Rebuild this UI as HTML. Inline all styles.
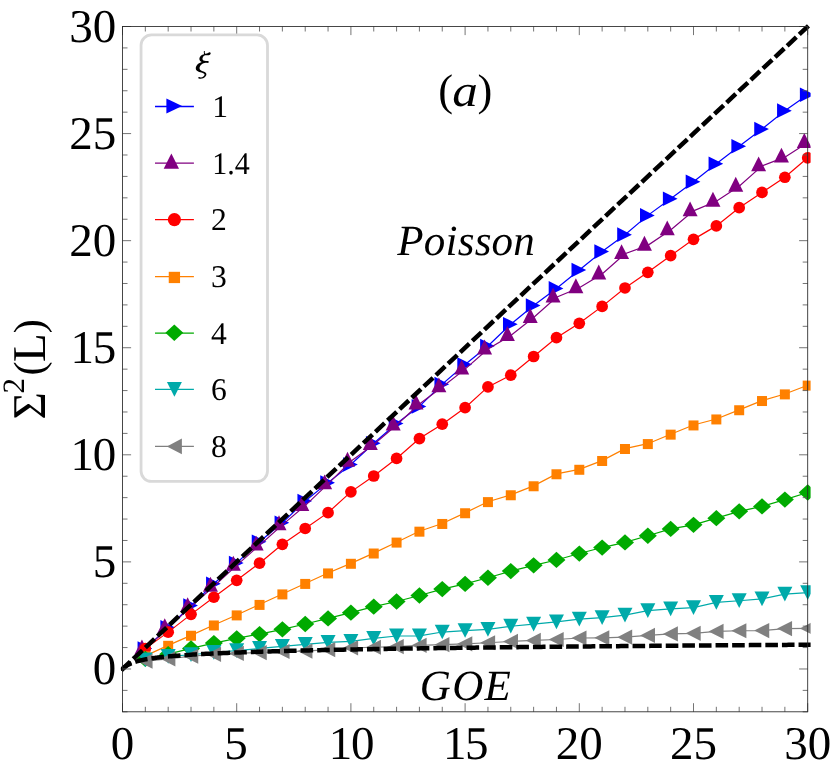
<!DOCTYPE html>
<html><head><meta charset="utf-8"><title>Number variance</title>
<style>html,body{margin:0;padding:0;background:#fff;}svg{display:block;will-change:transform;}text{font-family:"Liberation Serif",serif;fill:#000;text-rendering:geometricPrecision;}</style></head><body>
<svg width="830" height="770" viewBox="0 0 830 770">
<rect width="830" height="770" fill="#fff"/>
<defs>
<path id="m-blue" d="M-7.8 -7.3L6.9 0L-7.8 7.3Z"/>
<path id="l-blue" d="M-8.0 -8.0L7.7 -0.45L-8.0 7.1Z"/>
<path id="m-purple" d="M-3.4 -9.5L4.1 5.4L-10.9 5.4Z"/>
<path id="l-purple" d="M-3.05 -9.6L4.6 5.7L-10.7 5.7Z"/>
<circle id="m-red" r="5.85"/>
<circle id="l-red" r="6.6"/>
<rect id="m-orange" x="-5.0" y="-4.6" width="10.0" height="10.0"/>
<rect id="l-orange" x="-5.65" y="-4.8" width="11.3" height="11.3"/>
<path id="m-green" d="M0 -8.15L9.0 0L0 8.15L-9.0 0Z"/>
<path id="l-green" d="M-0.1 -8.5L8.85 -0.3L-0.1 7.9L-9.05 -0.3Z"/>
<path id="m-cyan" d="M-7.5 -7.4L7.5 -7.4L0 7.3Z"/>
<path id="l-cyan" d="M-7.5 -7.5L7.5 -7.5L0 7.4Z"/>
<path id="m-gray" d="M7.2 -7.6L7.2 7.6L-7.8 0Z"/>
<path id="l-gray" d="M7.5 -7.8L7.5 7.8L-7.5 0Z"/>
<clipPath id="clip"><rect x="120.9" y="23.5" width="689.7" height="691.3"/></clipPath>
</defs>
<g clip-path="url(#clip)">
<g fill="#0000ff" stroke="none">
<polyline fill="none" stroke="#0000ff" stroke-width="1.2" points="145.34,648.62 168.18,627.42 191.02,605.58 213.86,583.73 236.7,562.96 259.54,541.76 282.38,522.7 305.22,501.07 328.06,482.65 350.9,464.45 373.74,443.25 396.58,423.55 419.42,406.41 442.26,384.14 465.1,364.44 487.94,346.02 510.78,324.18 533.62,305.55 556.46,288.41 579.3,270 602.14,251.58 624.98,234.66 647.82,215.39 670.66,198.68 693.5,181.76 716.34,163.77 739.18,146.21 762.02,129.08 784.86,110.66 807.7,94.82"/>
<use href="#m-blue" x="145.34" y="648.62"/>
<use href="#m-blue" x="168.18" y="627.42"/>
<use href="#m-blue" x="191.02" y="605.58"/>
<use href="#m-blue" x="213.86" y="583.73"/>
<use href="#m-blue" x="236.7" y="562.96"/>
<use href="#m-blue" x="259.54" y="541.76"/>
<use href="#m-blue" x="282.38" y="522.7"/>
<use href="#m-blue" x="305.22" y="501.07"/>
<use href="#m-blue" x="328.06" y="482.65"/>
<use href="#m-blue" x="350.9" y="464.45"/>
<use href="#m-blue" x="373.74" y="443.25"/>
<use href="#m-blue" x="396.58" y="423.55"/>
<use href="#m-blue" x="419.42" y="406.41"/>
<use href="#m-blue" x="442.26" y="384.14"/>
<use href="#m-blue" x="465.1" y="364.44"/>
<use href="#m-blue" x="487.94" y="346.02"/>
<use href="#m-blue" x="510.78" y="324.18"/>
<use href="#m-blue" x="533.62" y="305.55"/>
<use href="#m-blue" x="556.46" y="288.41"/>
<use href="#m-blue" x="579.3" y="270"/>
<use href="#m-blue" x="602.14" y="251.58"/>
<use href="#m-blue" x="624.98" y="234.66"/>
<use href="#m-blue" x="647.82" y="215.39"/>
<use href="#m-blue" x="670.66" y="198.68"/>
<use href="#m-blue" x="693.5" y="181.76"/>
<use href="#m-blue" x="716.34" y="163.77"/>
<use href="#m-blue" x="739.18" y="146.21"/>
<use href="#m-blue" x="762.02" y="129.08"/>
<use href="#m-blue" x="784.86" y="110.66"/>
<use href="#m-blue" x="807.7" y="94.82"/>
</g>
<g fill="#800080" stroke="none">
<polyline fill="none" stroke="#800080" stroke-width="1.2" points="145.34,649.05 168.18,627.85 191.02,606.65 213.86,586.3 236.7,565.32 259.54,545.19 282.38,524.84 305.22,505.57 328.06,483.94 350.9,461.24 373.74,444.53 396.58,425.04 419.42,404.06 442.26,386.92 465.1,369.15 487.94,349.02 510.78,335.53 533.62,317.54 556.46,297.19 579.3,287.77 602.14,274.06 624.98,253.72 647.82,245.37 670.66,229.95 693.5,210.89 716.34,201.25 739.18,186.26 762.02,165.92 784.86,157.14 807.7,142.57"/>
<use href="#m-purple" x="145.34" y="649.05"/>
<use href="#m-purple" x="168.18" y="627.85"/>
<use href="#m-purple" x="191.02" y="606.65"/>
<use href="#m-purple" x="213.86" y="586.3"/>
<use href="#m-purple" x="236.7" y="565.32"/>
<use href="#m-purple" x="259.54" y="545.19"/>
<use href="#m-purple" x="282.38" y="524.84"/>
<use href="#m-purple" x="305.22" y="505.57"/>
<use href="#m-purple" x="328.06" y="483.94"/>
<use href="#m-purple" x="350.9" y="461.24"/>
<use href="#m-purple" x="373.74" y="444.53"/>
<use href="#m-purple" x="396.58" y="425.04"/>
<use href="#m-purple" x="419.42" y="404.06"/>
<use href="#m-purple" x="442.26" y="386.92"/>
<use href="#m-purple" x="465.1" y="369.15"/>
<use href="#m-purple" x="487.94" y="349.02"/>
<use href="#m-purple" x="510.78" y="335.53"/>
<use href="#m-purple" x="533.62" y="317.54"/>
<use href="#m-purple" x="556.46" y="297.19"/>
<use href="#m-purple" x="579.3" y="287.77"/>
<use href="#m-purple" x="602.14" y="274.06"/>
<use href="#m-purple" x="624.98" y="253.72"/>
<use href="#m-purple" x="647.82" y="245.37"/>
<use href="#m-purple" x="670.66" y="229.95"/>
<use href="#m-purple" x="693.5" y="210.89"/>
<use href="#m-purple" x="716.34" y="201.25"/>
<use href="#m-purple" x="739.18" y="186.26"/>
<use href="#m-purple" x="762.02" y="165.92"/>
<use href="#m-purple" x="784.86" y="157.14"/>
<use href="#m-purple" x="807.7" y="142.57"/>
</g>
<g fill="#ff0000" stroke="none">
<polyline fill="none" stroke="#ff0000" stroke-width="1.2" points="145.34,648.62 168.18,632.13 191.02,614.36 213.86,597.23 236.7,580.31 259.54,563.18 282.38,544.33 305.22,528.48 328.06,512.63 350.9,491.86 373.74,476.01 396.58,458.45 419.42,438.54 442.26,424.19 465.1,407.7 487.94,386.92 510.78,375.15 533.62,356.51 556.46,337.67 579.3,323.32 602.14,306.4 624.98,287.98 647.82,272.35 670.66,255.65 693.5,239.37 716.34,225.88 739.18,207.68 762.02,192.47 784.86,177.27 807.7,157.78"/>
<use href="#m-red" x="145.34" y="648.62"/>
<use href="#m-red" x="168.18" y="632.13"/>
<use href="#m-red" x="191.02" y="614.36"/>
<use href="#m-red" x="213.86" y="597.23"/>
<use href="#m-red" x="236.7" y="580.31"/>
<use href="#m-red" x="259.54" y="563.18"/>
<use href="#m-red" x="282.38" y="544.33"/>
<use href="#m-red" x="305.22" y="528.48"/>
<use href="#m-red" x="328.06" y="512.63"/>
<use href="#m-red" x="350.9" y="491.86"/>
<use href="#m-red" x="373.74" y="476.01"/>
<use href="#m-red" x="396.58" y="458.45"/>
<use href="#m-red" x="419.42" y="438.54"/>
<use href="#m-red" x="442.26" y="424.19"/>
<use href="#m-red" x="465.1" y="407.7"/>
<use href="#m-red" x="487.94" y="386.92"/>
<use href="#m-red" x="510.78" y="375.15"/>
<use href="#m-red" x="533.62" y="356.51"/>
<use href="#m-red" x="556.46" y="337.67"/>
<use href="#m-red" x="579.3" y="323.32"/>
<use href="#m-red" x="602.14" y="306.4"/>
<use href="#m-red" x="624.98" y="287.98"/>
<use href="#m-red" x="647.82" y="272.35"/>
<use href="#m-red" x="670.66" y="255.65"/>
<use href="#m-red" x="693.5" y="239.37"/>
<use href="#m-red" x="716.34" y="225.88"/>
<use href="#m-red" x="739.18" y="207.68"/>
<use href="#m-red" x="762.02" y="192.47"/>
<use href="#m-red" x="784.86" y="177.27"/>
<use href="#m-red" x="807.7" y="157.78"/>
</g>
<g fill="#ff8000" stroke="none">
<polyline fill="none" stroke="#ff8000" stroke-width="1.2" points="145.34,655.91 168.18,645.41 191.02,635.35 213.86,625.07 236.7,615 259.54,604.51 282.38,594.01 305.22,583.52 328.06,573.03 350.9,563.39 373.74,553.11 396.58,542.19 419.42,531.27 442.26,523.56 465.1,512.85 487.94,501.71 510.78,494.86 533.62,485.87 556.46,473.87 579.3,469.38 602.14,460.59 624.98,448.6 647.82,443.68 670.66,434.25 693.5,425.04 716.34,419.05 739.18,409.84 762.02,400.63 784.86,393.99 807.7,385.21"/>
<use href="#m-orange" x="145.34" y="655.91"/>
<use href="#m-orange" x="168.18" y="645.41"/>
<use href="#m-orange" x="191.02" y="635.35"/>
<use href="#m-orange" x="213.86" y="625.07"/>
<use href="#m-orange" x="236.7" y="615"/>
<use href="#m-orange" x="259.54" y="604.51"/>
<use href="#m-orange" x="282.38" y="594.01"/>
<use href="#m-orange" x="305.22" y="583.52"/>
<use href="#m-orange" x="328.06" y="573.03"/>
<use href="#m-orange" x="350.9" y="563.39"/>
<use href="#m-orange" x="373.74" y="553.11"/>
<use href="#m-orange" x="396.58" y="542.19"/>
<use href="#m-orange" x="419.42" y="531.27"/>
<use href="#m-orange" x="442.26" y="523.56"/>
<use href="#m-orange" x="465.1" y="512.85"/>
<use href="#m-orange" x="487.94" y="501.71"/>
<use href="#m-orange" x="510.78" y="494.86"/>
<use href="#m-orange" x="533.62" y="485.87"/>
<use href="#m-orange" x="556.46" y="473.87"/>
<use href="#m-orange" x="579.3" y="469.38"/>
<use href="#m-orange" x="602.14" y="460.59"/>
<use href="#m-orange" x="624.98" y="448.6"/>
<use href="#m-orange" x="647.82" y="443.68"/>
<use href="#m-orange" x="670.66" y="434.25"/>
<use href="#m-orange" x="693.5" y="425.04"/>
<use href="#m-orange" x="716.34" y="419.05"/>
<use href="#m-orange" x="739.18" y="409.84"/>
<use href="#m-orange" x="762.02" y="400.63"/>
<use href="#m-orange" x="784.86" y="393.99"/>
<use href="#m-orange" x="807.7" y="385.21"/>
</g>
<g fill="#00aa00" stroke="none">
<polyline fill="none" stroke="#00aa00" stroke-width="1.2" points="145.34,658.9 168.18,654.19 191.02,648.41 213.86,643.06 236.7,638.34 259.54,634.06 282.38,629.35 305.22,624 328.06,618.43 350.9,612.65 373.74,606.65 396.58,601.51 419.42,595.51 442.26,589.09 465.1,583.95 487.94,577.74 510.78,571.1 533.62,565.32 556.46,559.96 579.3,553.54 602.14,547.54 624.98,542.4 647.82,535.76 670.66,528.91 693.5,524.84 716.34,518.2 739.18,511.35 762.02,506.42 784.86,499.57 807.7,492.5"/>
<use href="#m-green" x="145.34" y="658.9"/>
<use href="#m-green" x="168.18" y="654.19"/>
<use href="#m-green" x="191.02" y="648.41"/>
<use href="#m-green" x="213.86" y="643.06"/>
<use href="#m-green" x="236.7" y="638.34"/>
<use href="#m-green" x="259.54" y="634.06"/>
<use href="#m-green" x="282.38" y="629.35"/>
<use href="#m-green" x="305.22" y="624"/>
<use href="#m-green" x="328.06" y="618.43"/>
<use href="#m-green" x="350.9" y="612.65"/>
<use href="#m-green" x="373.74" y="606.65"/>
<use href="#m-green" x="396.58" y="601.51"/>
<use href="#m-green" x="419.42" y="595.51"/>
<use href="#m-green" x="442.26" y="589.09"/>
<use href="#m-green" x="465.1" y="583.95"/>
<use href="#m-green" x="487.94" y="577.74"/>
<use href="#m-green" x="510.78" y="571.1"/>
<use href="#m-green" x="533.62" y="565.32"/>
<use href="#m-green" x="556.46" y="559.96"/>
<use href="#m-green" x="579.3" y="553.54"/>
<use href="#m-green" x="602.14" y="547.54"/>
<use href="#m-green" x="624.98" y="542.4"/>
<use href="#m-green" x="647.82" y="535.76"/>
<use href="#m-green" x="670.66" y="528.91"/>
<use href="#m-green" x="693.5" y="524.84"/>
<use href="#m-green" x="716.34" y="518.2"/>
<use href="#m-green" x="739.18" y="511.35"/>
<use href="#m-green" x="762.02" y="506.42"/>
<use href="#m-green" x="784.86" y="499.57"/>
<use href="#m-green" x="807.7" y="492.5"/>
</g>
<g fill="#00aaaa" stroke="none">
<polyline fill="none" stroke="#00aaaa" stroke-width="1.2" points="145.34,659.97 168.18,656.44 191.02,654.73 213.86,652.48 236.7,650.66 259.54,648.45 282.38,646.31 305.22,644.45 328.06,642.31 350.9,641.45 373.74,638.34 396.58,635.99 419.42,635.88 442.26,632.03 465.1,630.53 487.94,629.46 510.78,626.24 533.62,624.1 556.46,621.96 579.3,619.18 602.14,617.68 624.98,615.11 647.82,610.61 670.66,608.9 693.5,607.61 716.34,602.47 739.18,600.76 762.02,598.83 784.86,594.12 807.7,592.62"/>
<use href="#m-cyan" x="145.34" y="659.97"/>
<use href="#m-cyan" x="168.18" y="656.44"/>
<use href="#m-cyan" x="191.02" y="654.73"/>
<use href="#m-cyan" x="213.86" y="652.48"/>
<use href="#m-cyan" x="236.7" y="650.66"/>
<use href="#m-cyan" x="259.54" y="648.45"/>
<use href="#m-cyan" x="282.38" y="646.31"/>
<use href="#m-cyan" x="305.22" y="644.45"/>
<use href="#m-cyan" x="328.06" y="642.31"/>
<use href="#m-cyan" x="350.9" y="641.45"/>
<use href="#m-cyan" x="373.74" y="638.34"/>
<use href="#m-cyan" x="396.58" y="635.99"/>
<use href="#m-cyan" x="419.42" y="635.88"/>
<use href="#m-cyan" x="442.26" y="632.03"/>
<use href="#m-cyan" x="465.1" y="630.53"/>
<use href="#m-cyan" x="487.94" y="629.46"/>
<use href="#m-cyan" x="510.78" y="626.24"/>
<use href="#m-cyan" x="533.62" y="624.1"/>
<use href="#m-cyan" x="556.46" y="621.96"/>
<use href="#m-cyan" x="579.3" y="619.18"/>
<use href="#m-cyan" x="602.14" y="617.68"/>
<use href="#m-cyan" x="624.98" y="615.11"/>
<use href="#m-cyan" x="647.82" y="610.61"/>
<use href="#m-cyan" x="670.66" y="608.9"/>
<use href="#m-cyan" x="693.5" y="607.61"/>
<use href="#m-cyan" x="716.34" y="602.47"/>
<use href="#m-cyan" x="739.18" y="600.76"/>
<use href="#m-cyan" x="762.02" y="598.83"/>
<use href="#m-cyan" x="784.86" y="594.12"/>
<use href="#m-cyan" x="807.7" y="592.62"/>
</g>
<g fill="#808080" stroke="none">
<polyline fill="none" stroke="#808080" stroke-width="1.2" points="145.34,661.26 168.18,658.8 191.02,656.23 213.86,654.3 236.7,653.44 259.54,652.59 282.38,651.52 305.22,651.09 328.06,649.59 350.9,647.87 373.74,647.23 396.58,646.59 419.42,645.3 442.26,644.66 465.1,643.81 487.94,642.73 510.78,641.45 533.62,640.38 556.46,639.52 579.3,638.02 602.14,637.81 624.98,637.17 647.82,635.45 670.66,633.95 693.5,633.31 716.34,631.38 739.18,630.74 762.02,630.53 784.86,628.6 807.7,628.39"/>
<use href="#m-gray" x="145.34" y="661.26"/>
<use href="#m-gray" x="168.18" y="658.8"/>
<use href="#m-gray" x="191.02" y="656.23"/>
<use href="#m-gray" x="213.86" y="654.3"/>
<use href="#m-gray" x="236.7" y="653.44"/>
<use href="#m-gray" x="259.54" y="652.59"/>
<use href="#m-gray" x="282.38" y="651.52"/>
<use href="#m-gray" x="305.22" y="651.09"/>
<use href="#m-gray" x="328.06" y="649.59"/>
<use href="#m-gray" x="350.9" y="647.87"/>
<use href="#m-gray" x="373.74" y="647.23"/>
<use href="#m-gray" x="396.58" y="646.59"/>
<use href="#m-gray" x="419.42" y="645.3"/>
<use href="#m-gray" x="442.26" y="644.66"/>
<use href="#m-gray" x="465.1" y="643.81"/>
<use href="#m-gray" x="487.94" y="642.73"/>
<use href="#m-gray" x="510.78" y="641.45"/>
<use href="#m-gray" x="533.62" y="640.38"/>
<use href="#m-gray" x="556.46" y="639.52"/>
<use href="#m-gray" x="579.3" y="638.02"/>
<use href="#m-gray" x="602.14" y="637.81"/>
<use href="#m-gray" x="624.98" y="637.17"/>
<use href="#m-gray" x="647.82" y="635.45"/>
<use href="#m-gray" x="670.66" y="633.95"/>
<use href="#m-gray" x="693.5" y="633.31"/>
<use href="#m-gray" x="716.34" y="631.38"/>
<use href="#m-gray" x="739.18" y="630.74"/>
<use href="#m-gray" x="762.02" y="630.53"/>
<use href="#m-gray" x="784.86" y="628.6"/>
<use href="#m-gray" x="807.7" y="628.39"/>
</g>
<line x1="121.13" y1="670.25" x2="812.27" y2="22.22" stroke="#000" stroke-width="4.5" fill="none" stroke-dasharray="12.6 4.0" stroke-dashoffset="0"/>
<polyline points="121.13,670.25 122.5,668.97 123.07,668.45 123.64,667.95 124.21,667.48 124.78,667.03 125.36,666.6 125.93,666.2 126.5,665.81 127.07,665.45 127.64,665.1 128.21,664.77 128.78,664.46 129.35,664.16 129.92,663.88 130.49,663.61 131.06,663.35 131.64,663.11 132.21,662.87 132.78,662.65 133.35,662.44 133.92,662.24 134.49,662.04 135.06,661.86 135.63,661.68 136.2,661.5 136.78,661.34 137.35,661.18 137.92,661.03 138.49,660.88 139.06,660.73 139.63,660.6 140.2,660.46 140.77,660.33 141.34,660.21 141.91,660.08 142.49,659.96 143.06,659.85 143.63,659.73 144.2,659.62 144.77,659.52 145.34,659.41 145.91,659.31 146.48,659.21 147.05,659.11 147.62,659.01 148.19,658.92 148.77,658.83 149.34,658.73 149.91,658.65 150.48,658.56 151.05,658.47 151.62,658.39 152.19,658.31 152.76,658.23 153.33,658.15 153.91,658.07 154.48,657.99 155.05,657.92 155.62,657.84 156.19,657.77 156.76,657.7 157.33,657.63 157.9,657.56 158.47,657.49 159.04,657.42 159.62,657.36 160.19,657.29 160.76,657.23 161.33,657.16 161.9,657.1 162.47,657.04 163.04,656.98 163.61,656.92 164.18,656.86 164.75,656.8 165.32,656.74 165.9,656.69 166.47,656.63 167.04,656.58 167.61,656.52 168.18,656.47 169.32,656.36 171.47,656.17 173.62,655.98 175.77,655.81 177.92,655.64 180.07,655.47 182.22,655.32 184.37,655.16 186.52,655.02 188.67,654.87 190.83,654.73 192.98,654.6 195.13,654.47 197.28,654.35 199.43,654.22 201.58,654.1 203.73,653.99 205.88,653.87 208.03,653.76 210.18,653.66 212.33,653.55 214.48,653.45 216.63,653.35 218.78,653.25 220.93,653.16 223.08,653.06 225.23,652.97 227.38,652.88 229.53,652.79 231.68,652.71 233.83,652.62 235.98,652.54 238.13,652.46 240.28,652.38 242.43,652.3 244.58,652.22 246.73,652.15 248.88,652.07 251.03,652 253.18,651.93 255.33,651.86 257.49,651.79 259.64,651.72 261.79,651.65 263.94,651.59 266.09,651.52 268.24,651.46 270.39,651.39 272.54,651.33 274.69,651.27 276.84,651.21 278.99,651.15 281.14,651.09 283.29,651.03 285.44,650.97 287.59,650.92 289.74,650.86 291.89,650.8 294.04,650.75 296.19,650.7 298.34,650.64 300.49,650.59 302.64,650.54 304.79,650.49 306.94,650.44 309.09,650.39 311.24,650.34 313.39,650.29 315.54,650.24 317.69,650.19 319.84,650.14 321.99,650.1 324.15,650.05 326.3,650 328.45,649.96 330.6,649.91 332.75,649.87 334.9,649.82 337.05,649.78 339.2,649.74 341.35,649.69 343.5,649.65 345.65,649.61 347.8,649.57 349.95,649.53 352.1,649.49 354.25,649.45 356.4,649.41 358.55,649.37 360.7,649.33 362.85,649.29 365,649.25 367.15,649.21 369.3,649.17 371.45,649.13 373.6,649.1 375.75,649.06 377.9,649.02 380.05,648.99 382.2,648.95 384.35,648.92 386.5,648.88 388.65,648.84 390.81,648.81 392.96,648.78 395.11,648.74 397.26,648.71 399.41,648.67 401.56,648.64 403.71,648.61 405.86,648.57 408.01,648.54 410.16,648.51 412.31,648.48 414.46,648.44 416.61,648.41 418.76,648.38 420.91,648.35 423.06,648.32 425.21,648.29 427.36,648.26 429.51,648.23 431.66,648.2 433.81,648.16 435.96,648.14 438.11,648.11 440.26,648.08 442.41,648.05 444.56,648.02 446.71,647.99 448.86,647.96 451.01,647.93 453.16,647.9 455.31,647.88 457.47,647.85 459.62,647.82 461.77,647.79 463.92,647.76 466.07,647.74 468.22,647.71 470.37,647.68 472.52,647.66 474.67,647.63 476.82,647.6 478.97,647.58 481.12,647.55 483.27,647.53 485.42,647.5 487.57,647.47 489.72,647.45 491.87,647.42 494.02,647.4 496.17,647.37 498.32,647.35 500.47,647.32 502.62,647.3 504.77,647.27 506.92,647.25 509.07,647.23 511.22,647.2 513.37,647.18 515.52,647.15 517.67,647.13 519.82,647.11 521.97,647.08 524.12,647.06 526.28,647.04 528.43,647.01 530.58,646.99 532.73,646.97 534.88,646.95 537.03,646.92 539.18,646.9 541.33,646.88 543.48,646.86 545.63,646.83 547.78,646.81 549.93,646.79 552.08,646.77 554.23,646.75 556.38,646.72 558.53,646.7 560.68,646.68 562.83,646.66 564.98,646.64 567.13,646.62 569.28,646.6 571.43,646.58 573.58,646.56 575.73,646.54 577.88,646.51 580.03,646.49 582.18,646.47 584.33,646.45 586.48,646.43 588.63,646.41 590.78,646.39 592.94,646.37 595.09,646.35 597.24,646.33 599.39,646.31 601.54,646.29 603.69,646.28 605.84,646.26 607.99,646.24 610.14,646.22 612.29,646.2 614.44,646.18 616.59,646.16 618.74,646.14 620.89,646.12 623.04,646.1 625.19,646.09 627.34,646.07 629.49,646.05 631.64,646.03 633.79,646.01 635.94,645.99 638.09,645.98 640.24,645.96 642.39,645.94 644.54,645.92 646.69,645.9 648.84,645.89 650.99,645.87 653.14,645.85 655.29,645.83 657.44,645.82 659.6,645.8 661.75,645.78 663.9,645.76 666.05,645.75 668.2,645.73 670.35,645.71 672.5,645.7 674.65,645.68 676.8,645.66 678.95,645.64 681.1,645.63 683.25,645.61 685.4,645.59 687.55,645.58 689.7,645.56 691.85,645.55 694,645.53 696.15,645.51 698.3,645.5 700.45,645.48 702.6,645.46 704.75,645.45 706.9,645.43 709.05,645.42 711.2,645.4 713.35,645.38 715.5,645.37 717.65,645.35 719.8,645.34 721.95,645.32 724.1,645.31 726.26,645.29 728.41,645.28 730.56,645.26 732.71,645.24 734.86,645.23 737.01,645.21 739.16,645.2 741.31,645.18 743.46,645.17 745.61,645.15 747.76,645.14 749.91,645.12 752.06,645.11 754.21,645.09 756.36,645.08 758.51,645.07 760.66,645.05 762.81,645.04 764.96,645.02 767.11,645.01 769.26,644.99 771.41,644.98 773.56,644.96 775.71,644.95 777.86,644.93 780.01,644.92 782.16,644.91 784.31,644.89 786.46,644.88 788.61,644.86 790.76,644.85 792.92,644.84 795.07,644.82 797.22,644.81 799.37,644.79 801.52,644.78 803.67,644.77 805.82,644.75 807.97,644.74 810.12,644.73 812.27,644.71" stroke="#000" stroke-width="4.5" fill="none" stroke-dasharray="12.6 4.0" stroke-dashoffset="0"/>
</g>
<path d="M122.5 711.8v-8.6M122.5 26.5v8.6M145.34 711.8v-5M145.34 26.5v5M168.18 711.8v-5M168.18 26.5v5M191.02 711.8v-5M191.02 26.5v5M213.86 711.8v-5M213.86 26.5v5M236.7 711.8v-8.6M236.7 26.5v8.6M259.54 711.8v-5M259.54 26.5v5M282.38 711.8v-5M282.38 26.5v5M305.22 711.8v-5M305.22 26.5v5M328.06 711.8v-5M328.06 26.5v5M350.9 711.8v-8.6M350.9 26.5v8.6M373.74 711.8v-5M373.74 26.5v5M396.58 711.8v-5M396.58 26.5v5M419.42 711.8v-5M419.42 26.5v5M442.26 711.8v-5M442.26 26.5v5M465.1 711.8v-8.6M465.1 26.5v8.6M487.94 711.8v-5M487.94 26.5v5M510.78 711.8v-5M510.78 26.5v5M533.62 711.8v-5M533.62 26.5v5M556.46 711.8v-5M556.46 26.5v5M579.3 711.8v-8.6M579.3 26.5v8.6M602.14 711.8v-5M602.14 26.5v5M624.98 711.8v-5M624.98 26.5v5M647.82 711.8v-5M647.82 26.5v5M670.66 711.8v-5M670.66 26.5v5M693.5 711.8v-8.6M693.5 26.5v8.6M716.34 711.8v-5M716.34 26.5v5M739.18 711.8v-5M739.18 26.5v5M762.02 711.8v-5M762.02 26.5v5M784.86 711.8v-5M784.86 26.5v5M807.7 711.8v-8.6M807.7 26.5v8.6M122.5 711.8h5M807.7 711.8h-5M122.5 690.38h5M807.7 690.38h-5M122.5 668.97h8.6M807.7 668.97h-8.6M122.5 647.55h5M807.7 647.55h-5M122.5 626.14h5M807.7 626.14h-5M122.5 604.72h5M807.7 604.72h-5M122.5 583.31h5M807.7 583.31h-5M122.5 561.89h8.6M807.7 561.89h-8.6M122.5 540.47h5M807.7 540.47h-5M122.5 519.06h5M807.7 519.06h-5M122.5 497.64h5M807.7 497.64h-5M122.5 476.23h5M807.7 476.23h-5M122.5 454.81h8.6M807.7 454.81h-8.6M122.5 433.4h5M807.7 433.4h-5M122.5 411.98h5M807.7 411.98h-5M122.5 390.57h5M807.7 390.57h-5M122.5 369.15h5M807.7 369.15h-5M122.5 347.73h8.6M807.7 347.73h-8.6M122.5 326.32h5M807.7 326.32h-5M122.5 304.9h5M807.7 304.9h-5M122.5 283.49h5M807.7 283.49h-5M122.5 262.07h5M807.7 262.07h-5M122.5 240.66h8.6M807.7 240.66h-8.6M122.5 219.24h5M807.7 219.24h-5M122.5 197.83h5M807.7 197.83h-5M122.5 176.41h5M807.7 176.41h-5M122.5 154.99h5M807.7 154.99h-5M122.5 133.58h8.6M807.7 133.58h-8.6M122.5 112.16h5M807.7 112.16h-5M122.5 90.75h5M807.7 90.75h-5M122.5 69.33h5M807.7 69.33h-5M122.5 47.92h5M807.7 47.92h-5M122.5 26.5h8.6M807.7 26.5h-8.6" stroke="#5c5c5c" stroke-width="0.85" fill="none"/>
<rect x="122.5" y="26.5" width="685.2" height="685.3" fill="none" stroke="#262626" stroke-width="0.85"/>
<g font-size="47">
<text x="110.75" y="759">0</text>
<text x="224.35" y="759">5</text>
<text x="328.7 350.9" y="759">10</text>
<text x="442.9 465.1" y="759">15</text>
<text x="555.8 579.3" y="759">20</text>
<text x="670 693.5" y="759">25</text>
<text x="784.2 807.7" y="759">30</text>
<text x="92.8" y="684.37">0</text>
<text x="92.8" y="577.29">5</text>
<text x="70.6 92.8" y="470.21">10</text>
<text x="70.6 92.8" y="363.13">15</text>
<text x="69.3 92.8" y="256.06">20</text>
<text x="69.3 92.8" y="148.98">25</text>
<text x="69.3 92.8" y="41.9">30</text>
</g>
<text transform="translate(44.9 418.5) rotate(-90)" font-size="47"><tspan x="-0.9" y="0">Σ</tspan><tspan x="25.0" y="-20.6" font-size="31">2</tspan><tspan x="42.9" y="-2.4" font-size="42.5">(</tspan><tspan x="56.5" y="0">L</tspan><tspan x="85.3" y="-2.4" font-size="42.5">)</tspan></text>
<text font-size="44.5"><tspan x="438.2" y="104.8">(</tspan><tspan font-style="italic" font-size="45" textLength="25.6" lengthAdjust="spacingAndGlyphs" x="452.3" y="106.2">a</tspan><tspan x="477.5" y="104.8">)</tspan></text>
<text x="397.2" y="254.5" font-size="43" font-style="italic" letter-spacing="0.25">Poisson</text>
<text x="419.8" y="699.9" font-size="43" font-style="italic" letter-spacing="1.3">GOE</text>
<rect x="141.05" y="34.85" width="126.45" height="446.6" rx="10.4" ry="10.4" fill="#fff" stroke="#d9d9d9" stroke-width="2.8"/>
<g transform="translate(180 40) scale(0.064935)"><title>ξ</title><path d="M368 168L383 170C379 188 381 204 389 211C410 217 430 200 452 190C474 186 481 214 461 228C441 238 411 236 386 233C366 239 346 262 346 290C346 314 366 324 400 324C426 321 446 325 444 340C441 356 420 353 395 351C351 353 301 390 301 435C301 464 331 474 361 486C391 497 409 510 406 535C401 571 351 599 300 598C279 598 274 578 290 571C301 567 310 578 321 578C350 575 375 555 378 535C380 520 360 512 330 502C280 488 243 475 243 435C243 390 290 350 336 338C311 330 298 315 298 290C298 255 335 226 371 220C367 205 365 190 368 168Z" fill="#000"/></g>
<g fill="#0000ff">
<line x1="155" y1="106.5" x2="193.9" y2="106.5" stroke="#0000ff" stroke-width="1.3"/>
<use href="#l-blue" x="174.4" y="106.5"/>
</g>
<text transform="translate(212.2 117.1) scale(1 1)" font-size="31.6">1</text>
<g fill="#800080">
<line x1="155" y1="163.1" x2="193.9" y2="163.1" stroke="#800080" stroke-width="1.3"/>
<use href="#l-purple" x="174.4" y="163.1"/>
</g>
<text transform="translate(212.2 173.7) scale(0.95 1)" font-size="31.6">1.4</text>
<g fill="#ff0000">
<line x1="155" y1="219.6" x2="193.9" y2="219.6" stroke="#ff0000" stroke-width="1.3"/>
<use href="#l-red" x="174.4" y="219.6"/>
</g>
<text transform="translate(210.9 230.2) scale(1 1)" font-size="31.6">2</text>
<g fill="#ff8000">
<line x1="155" y1="276.6" x2="193.9" y2="276.6" stroke="#ff8000" stroke-width="1.3"/>
<use href="#l-orange" x="174.4" y="276.6"/>
</g>
<text transform="translate(210.9 287.2) scale(1 1)" font-size="31.6">3</text>
<g fill="#00aa00">
<line x1="155" y1="333.1" x2="193.9" y2="333.1" stroke="#00aa00" stroke-width="1.3"/>
<use href="#l-green" x="174.4" y="333.1"/>
</g>
<text transform="translate(210.9 343.7) scale(1 1)" font-size="31.6">4</text>
<g fill="#00aaaa">
<line x1="155" y1="389.4" x2="193.9" y2="389.4" stroke="#00aaaa" stroke-width="1.3"/>
<use href="#l-cyan" x="174.4" y="389.4"/>
</g>
<text transform="translate(210.9 400) scale(1 1)" font-size="31.6">6</text>
<g fill="#808080">
<line x1="155" y1="446.4" x2="193.9" y2="446.4" stroke="#808080" stroke-width="1.3"/>
<use href="#l-gray" x="174.4" y="446.4"/>
</g>
<text transform="translate(210.9 457) scale(1 1)" font-size="31.6">8</text>
</svg></body></html>
